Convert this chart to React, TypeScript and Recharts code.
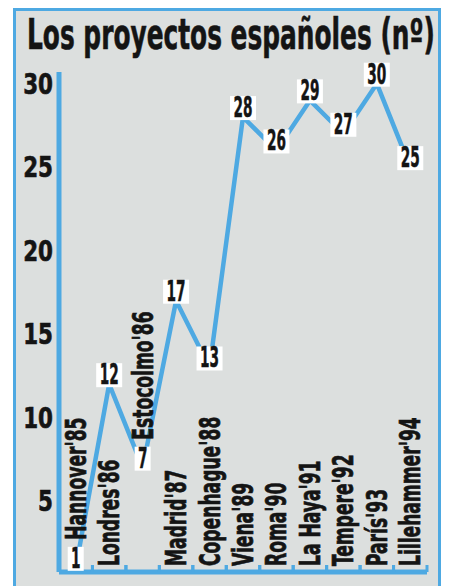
import React from 'react'
import { ComposedChart, Line, XAxis, YAxis } from 'recharts'

const ciudades = [
  "Hannover'85",
  "Londres'86",
  "Estocolmo'86",
  "Madrid'87",
  "Copenhague'88",
  "Viena'89",
  "Roma'90",
  "La Haya'91",
  "Tempere'92",
  "París'93",
  "Lillehammer'94",
]
const proyectos = [1, 12, 7, 17, 13, 28, 26, 29, 27, 30, 25]
const yTicks = [5, 10, 15, 20, 25, 30]
const TITLE = 'Los proyectos españoles (nº)'

const BLUE = '#4ea9e2'
const INK = '#141414'
const FONT = '"DejaVu Sans Condensed", "Liberation Sans", sans-serif'

const W = 450
const H = 586
const TOP = 72
const BASE = 572
const LEFT = 59
const RIGHT = 427
const DOMAIN: [number, number] = [0.75, 30.7]

const data = ciudades.map((ciudad, i) => ({ ciudad, n: proyectos[i] }))

const band = (RIGHT - LEFT) / ciudades.length
const yPix = (v: number) => TOP + ((DOMAIN[1] - v) * (BASE - TOP)) / (DOMAIN[1] - DOMAIN[0])

function textWidth(s: string, font: string) {
  const ctx = document.createElement('canvas').getContext('2d')
  if (!ctx) return s.length * 20
  ctx.font = font
  return ctx.measureText(s).width
}

const titleScale = 408 / textWidth(TITLE, `bold 42px ${FONT}`)

function CityTick(props: any) {
  const { x, payload } = props
  const i = payload?.index ?? props.index ?? 0
  const v = proyectos[i]
  // small values: the label sits above the number box
  const start = v < 10 ? yPix(v) - 28 : BASE - 6
  return (
    <g>
      <line x1={x - band / 2} x2={x - band / 2} y1={BASE} y2={BASE - 7} stroke={BLUE} strokeWidth={3} />
      <line x1={x + band / 2} x2={x + band / 2} y1={BASE} y2={BASE - 7} stroke={BLUE} strokeWidth={3} />
      <text
        x={0}
        y={0}
        transform={`translate(${x + 10} ${start}) rotate(-90) scale(0.68 1)`}
        textAnchor="start"
        fontFamily={FONT}
        fontWeight={700}
        fontSize={28}
        fill={INK}
        stroke={INK}
        strokeWidth={0.7}
      >
        {payload.value}
      </text>
    </g>
  )
}

function ValueBox(props: any) {
  const { x, y, value } = props
  const s = String(value)
  const w = s.length * 10 + 6
  const h = 24
  const b = y + 3
  return (
    <g>
      <rect x={x - w / 2} y={b - h} width={w} height={h} fill="#fff" />
      <text
        x={x}
        y={b - 3}
        textAnchor="middle"
        textLength={s.length * 9.5}
        lengthAdjust="spacingAndGlyphs"
        fontFamily={FONT}
        fontWeight={700}
        fontSize={28}
        fill={INK}
        stroke={INK}
        strokeWidth={0.5}
      >
        {s}
      </text>
    </g>
  )
}

function YTick(props: any) {
  const { x, y, payload } = props
  return (
    <text
      x={0}
      y={0}
      transform={`translate(${x} ${y + 10}) scale(0.85 1)`}
      textAnchor="end"
      fontFamily={FONT}
      fontWeight={700}
      fontSize={28}
      fill={INK}
      stroke={INK}
      strokeWidth={0.6}
    >
      {payload.value}
    </text>
  )
}

export default function App() {
  return (
    <div style={{ position: 'relative', width: W, height: H, background: '#fff', overflow: 'hidden' }}>
      <style>{'body{margin:0}'}</style>
      <div
        style={{
          position: 'absolute',
          left: 13,
          top: 8,
          width: 428,
          height: 600,
          border: `3px solid ${BLUE}`,
          boxSizing: 'border-box',
          background: '#dcdfde',
        }}
      />
      <svg width={W} height={70} style={{ position: 'absolute', left: 0, top: 0 }}>
        <text
          x={0}
          y={0}
          transform={`translate(27 49) scale(${titleScale} 1)`}
          fontFamily={FONT}
          fontWeight={700}
          fontSize={42}
          fill={INK}
          stroke={INK}
          strokeWidth={0.6}
        >
          {TITLE}
        </text>
      </svg>
      <div style={{ position: 'absolute', left: 0, top: 0 }}>
        <ComposedChart width={W} height={H} data={data} margin={{ top: TOP, right: W - RIGHT, bottom: 0, left: LEFT - 40 }}>
          <XAxis
            dataKey="ciudad"
            scale="band"
            height={H - BASE}
            axisLine={{ stroke: BLUE, strokeWidth: 5 }}
            tickLine={false}
            tick={CityTick}
            interval={0}
          />
          <YAxis
            type="number"
            width={40}
            domain={DOMAIN}
            allowDataOverflow
            ticks={yTicks}
            interval={0}
            axisLine={{ stroke: BLUE, strokeWidth: 5 }}
            tickLine={false}
            tickSize={0}
            tickMargin={6}
            tick={YTick}
          />
          <Line
            dataKey="n"
            stroke={BLUE}
            strokeWidth={4.5}
            strokeLinejoin="round"
            dot={false}
            activeDot={false}
            isAnimationActive={false}
            label={ValueBox}
          />
        </ComposedChart>
      </div>
    </div>
  )
}
